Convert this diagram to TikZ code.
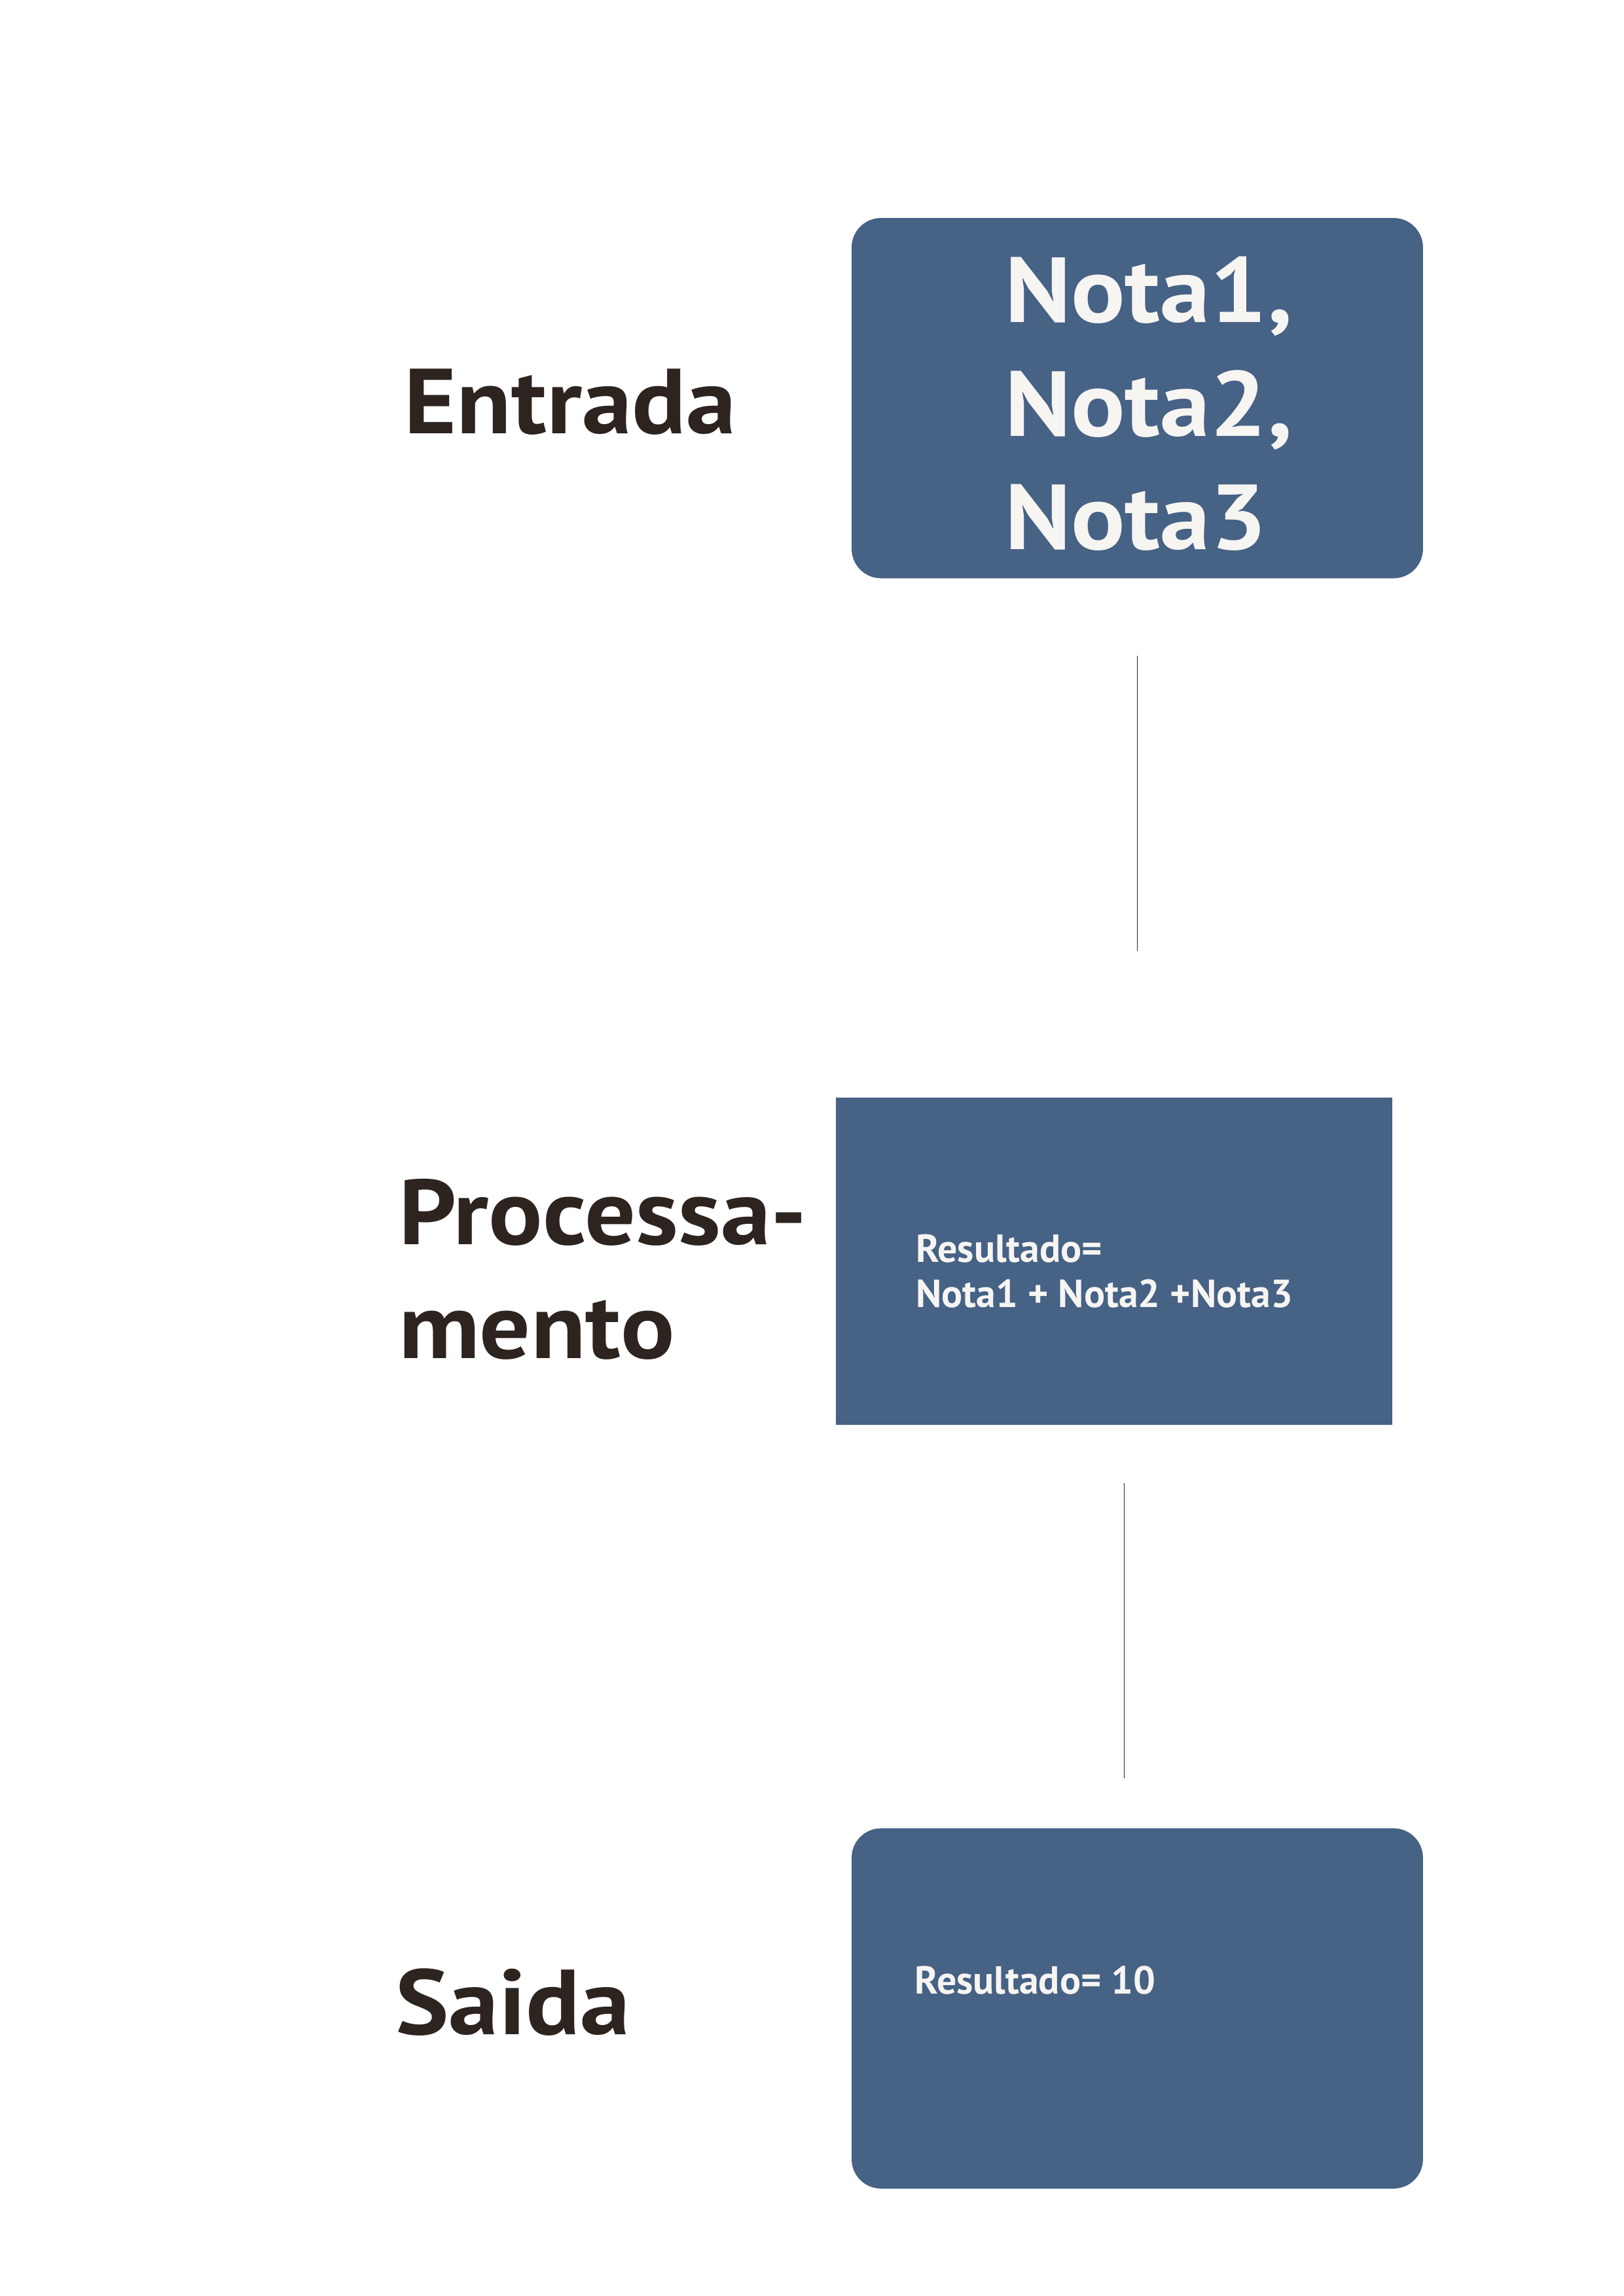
\documentclass[tikz,border=0pt]{standalone}
\usepackage{fontspec}
\setmainfont{PT Sans}
\newfontfamily\stagefamily[FakeStretch=1.09]{PT Sans}
\usepackage{tikz}
\usetikzlibrary{positioning}
\definecolor{LabelInk}{HTML}{2D2420}
\definecolor{BoxFill}{HTML}{466285}
\definecolor{BoxInk}{HTML}{F7F5F2}
\definecolor{LinkInk}{gray}{0.15}
\newcommand{\StageFont}{\stagefamily\fontsize{34}{41.8}\selectfont\bfseries}
\newcommand{\NoteFont}{\fontsize{14.4}{16.6}\selectfont\bfseries}
\tikzset{
  stage/.style={font=\StageFont,text=LabelInk,inner sep=0pt,align=left},
  block/.style={fill=BoxFill,inner sep=0pt,minimum width=7.39cm,minimum height=4.66cm},
  roundblock/.style={block,rounded corners=3.8mm},
  boxtext/.style={font=\NoteFont,text=BoxInk,inner sep=0pt,align=left},
  link/.style={draw=LinkInk,line width=0.3pt},
}
\begin{document}
\begin{tikzpicture}
  \useasboundingbox (0,0) rectangle (21,-29.7);

  \node[roundblock] (inbox) at (14.71,-5.15) {};
  \node[block,minimum width=7.20cm,minimum height=4.23cm] (procbox) at (14.41,-16.315) {};
  \node[roundblock] (outbox) at (14.71,-25.98) {};

  \node[stage,anchor=base west] (entrada) at (5.22,-5.61) {Entrada};
  \node[stage,anchor=base west] (processa) at (5.15,-17.57) {Processa-\\mento};
  \node[stage,anchor=base west] (saida) at (5.11,-26.32) {Saida};

  \node[stage,text=BoxInk,anchor=base west] (notas) at (12.99,-7.11) {Nota1,\\Nota2,\\Nota3};
  \node[boxtext,anchor=base west] (soma) at (11.84,-16.91) {Resultado=\\Nota1 + Nota2 +Nota3};
  \node[boxtext,anchor=base west] (total) at ([shift={(0.82,0.19)}]outbox.west) {Resultado= 10};

  \draw[link] ([yshift=-10mm]inbox.south) -- ([yshift=18.9mm]inbox.south |- procbox.north);
  \draw[link] ([xshift=1.3mm,yshift=-7.5mm]procbox.south) -- ([xshift=1.3mm,yshift=6.4mm]procbox.south |- outbox.north);
\end{tikzpicture}
\end{document}
